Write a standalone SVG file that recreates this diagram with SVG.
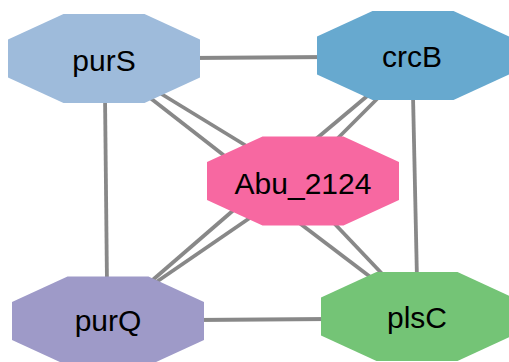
<svg xmlns="http://www.w3.org/2000/svg" xmlns:xlink="http://www.w3.org/1999/xlink" width="509" height="362" viewBox="0 0 509 362">
  <style>
    .edge { stroke: #888888; stroke-width: 3.8; fill: none; }
    .label { font-family: "Liberation Sans", Arial, Helvetica, sans-serif; font-size: 30px; fill: #000000; text-anchor: middle; }
  </style>
  <defs>
    <polygon id="oct" points="-40.5,-44.5 40.5,-44.5 96,-19 96,19 40.5,44.5 -40.5,44.5 -96,19 -96,-19"/>
  </defs>
  <rect width="509" height="362" fill="#ffffff"/>
  <g id="edges">
    <line class="edge" x1="190" y1="58" x2="330" y2="57"/>
    <line class="edge" x1="105" y1="95" x2="107" y2="285"/>
    <line class="edge" x1="413" y1="95" x2="417" y2="280"/>
    <line class="edge" x1="195" y1="320" x2="330" y2="319"/>
    <line class="edge" x1="140" y1="90" x2="235" y2="164"/>
    <line class="edge" x1="150" y1="87" x2="258" y2="153"/>
    <line class="edge" x1="372" y1="92" x2="310" y2="144"/>
    <line class="edge" x1="382" y1="94" x2="332" y2="144"/>
    <line class="edge" x1="236" y1="208" x2="148" y2="284"/>
    <line class="edge" x1="257" y1="213" x2="152" y2="285"/>
    <line class="edge" x1="298" y1="222" x2="377" y2="282"/>
    <line class="edge" x1="332" y1="221" x2="388" y2="280"/>
  </g>
  <g id="node-purS">
    <use xlink:href="#oct" href="#oct" transform="translate(104,58.5)" fill="#9ebbdb"/>
    <text class="label" x="104" y="71">purS</text>
  </g>
  <g id="node-crcB">
    <use xlink:href="#oct" href="#oct" transform="translate(413,55.5)" fill="#67a9cf"/>
    <text class="label" x="412" y="67">crcB</text>
  </g>
  <g id="node-Abu_2124">
    <use xlink:href="#oct" href="#oct" transform="translate(303,181)" fill="#f768a1"/>
    <text class="label" x="303" y="194">Abu_2124</text>
  </g>
  <g id="node-purQ">
    <use xlink:href="#oct" href="#oct" transform="translate(108,321)" fill="#9e9ac8"/>
    <text class="label" x="108" y="331">purQ</text>
  </g>
  <g id="node-plsC">
    <use xlink:href="#oct" href="#oct" transform="translate(417,316.5)" fill="#74c476"/>
    <text class="label" x="417" y="328">plsC</text>
  </g>
</svg>
